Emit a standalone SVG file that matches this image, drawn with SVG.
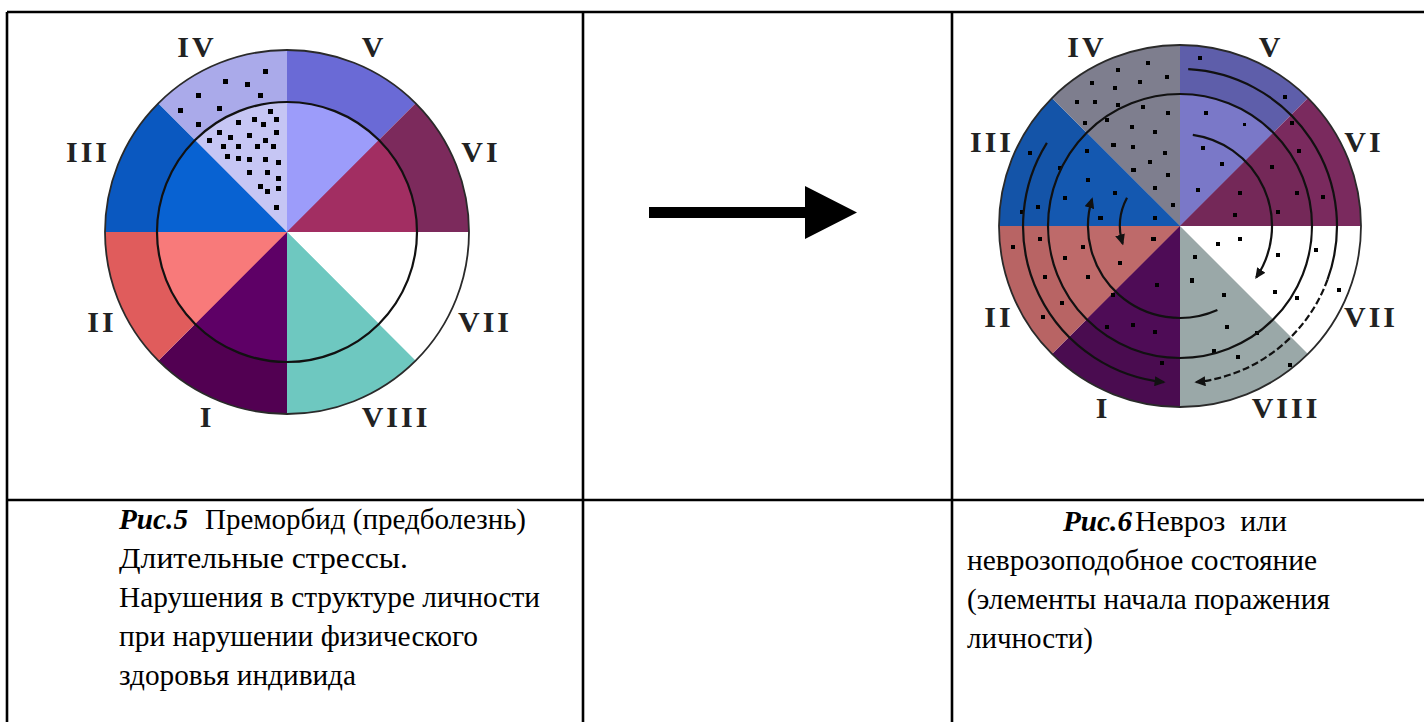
<svg xmlns="http://www.w3.org/2000/svg" width="1424" height="722" viewBox="0 0 1424 722">
<style>
.tb{stroke:#000;stroke-width:2.6;fill:none}
.lbl{font-family:"Liberation Serif","Times New Roman",serif;font-weight:bold;font-size:30px;letter-spacing:3px;fill:#222;text-anchor:middle}
.cap{font-family:"Liberation Serif","Times New Roman",serif;font-size:30px;fill:#000}
.bi{font-weight:bold;font-style:italic}
.ring{fill:none;stroke:#111;stroke-width:2.2}
.edge{fill:none;stroke:#2a2a2a;stroke-width:1.8}
.arc{fill:none;stroke:#111;stroke-width:2.2}
.dash{stroke-dasharray:7 3}
.dots{fill:#000}
</style>
<defs>
<marker id="ah" markerUnits="userSpaceOnUse" markerWidth="11" markerHeight="10" refX="9" refY="5" orient="auto">
<path d="M0,0 L11,5 L0,10 Z" fill="#111"/>
</marker>
</defs>
<rect width="1424" height="722" fill="#fff"/>

<g id="table">
<path class="tb" d="M7 12 H1424 M7 12 V722 M583 12 V722 M952 12 V722 M7 500 H1424"/>
</g>

<g id="fig5">
<path d="M287 232 L469 232 A182 182 0 0 1 415.69 360.69 Z" fill="#ffffff"/>
<path d="M287 232 L415.69 360.69 A182 182 0 0 1 287 414 Z" fill="#6ec8c0"/>
<path d="M287 232 L287 414 A182 182 0 0 1 158.31 360.69 Z" fill="#520052"/>
<path d="M287 232 L158.31 360.69 A182 182 0 0 1 105 232 Z" fill="#e05c5c"/>
<path d="M287 232 L105 232 A182 182 0 0 1 158.31 103.31 Z" fill="#0a58c0"/>
<path d="M287 232 L158.31 103.31 A182 182 0 0 1 287 50 Z" fill="#aaaaea"/>
<path d="M287 232 L287 50 A182 182 0 0 1 415.69 103.31 Z" fill="#6a6ad6"/>
<path d="M287 232 L415.69 103.31 A182 182 0 0 1 469 232 Z" fill="#7c2a5c"/>
<path d="M287 232 L378.92 323.92 A130 130 0 0 1 287 362 Z" fill="#6ec8c0"/>
<path d="M287 232 L287 362 A130 130 0 0 1 195.08 323.92 Z" fill="#5e0066"/>
<path d="M287 232 L195.08 323.92 A130 130 0 0 1 157 232 Z" fill="#f87a7a"/>
<path d="M287 232 L157 232 A130 130 0 0 1 195.08 140.08 Z" fill="#0862d2"/>
<path d="M287 232 L195.08 140.08 A130 130 0 0 1 287 102 Z" fill="#c6c6f4"/>
<path d="M287 232 L287 102 A130 130 0 0 1 378.92 140.08 Z" fill="#9c9cfa"/>
<path d="M287 232 L378.92 140.08 A130 130 0 0 1 417 232 Z" fill="#a22e62"/>
<circle class="ring" cx="287" cy="232" r="130"/>
<circle class="edge" cx="287" cy="232" r="182"/>
<path class="dots" d="M263 69h5v5h-5z M223 79h5v5h-5z M245 82h5v5h-5z M196 93h5v5h-5z M258 93h5v5h-5z M178 108h5v5h-5z M217 106h5v5h-5z M196 122h5v5h-5z M268 109h5v5h-5z M274 117h5v5h-5z M236 120h5v5h-5z M252 117h5v5h-5z M261 122h5v5h-5z M217 130h5v5h-5z M228 135h5v5h-5z M247 133h5v5h-5z M274 130h5v5h-5z M207 138h5v5h-5z M221 144h5v5h-5z M236 144h5v5h-5z M255 144h5v5h-5z M263 138h5v5h-5z M271 144h5v5h-5z M225 154h5v5h-5z M236 156h5v5h-5z M247 157h5v5h-5z M263 157h5v5h-5z M276 160h5v5h-5z M247 170h5v5h-5z M265 170h5v5h-5z M276 176h5v5h-5z M258 184h5v5h-5z M265 189h5v5h-5z M276 186h5v5h-5z M274 205h5v5h-5z"/>
<text class="lbl" x="197" y="57">IV</text>
<text class="lbl" x="374" y="57">V</text>
<text class="lbl" x="88" y="162">III</text>
<text class="lbl" x="481" y="162">VI</text>
<text class="lbl" x="102" y="332">II</text>
<text class="lbl" x="485" y="332">VII</text>
<text class="lbl" x="207" y="427">I</text>
<text class="lbl" x="396" y="427">VIII</text>
</g>

<g id="fig6">
<path d="M1180 226 L1361 226 A181 181 0 0 1 1307.99 353.99 Z" fill="#ffffff"/>
<path d="M1180 226 L1307.99 353.99 A181 181 0 0 1 1180 407 Z" fill="#9aa8a8"/>
<path d="M1180 226 L1180 407 A181 181 0 0 1 1052.01 353.99 Z" fill="#4a0c50"/>
<path d="M1180 226 L1052.01 353.99 A181 181 0 0 1 999 226 Z" fill="#b86464"/>
<path d="M1180 226 L999 226 A181 181 0 0 1 1052.01 98.01 Z" fill="#1454a8"/>
<path d="M1180 226 L1052.01 98.01 A181 181 0 0 1 1180 45 Z" fill="#7e7e8e"/>
<path d="M1180 226 L1180 45 A181 181 0 0 1 1307.99 98.01 Z" fill="#5e5eaa"/>
<path d="M1180 226 L1307.99 98.01 A181 181 0 0 1 1361 226 Z" fill="#7a2a5e"/>
<path d="M1180 226 L1180 94 A132 132 0 0 1 1273.34 132.66 Z" fill="#7a78c8"/>
<path d="M1180 226 L1273.34 132.66 A132 132 0 0 1 1312 226 Z" fill="#742858"/>
<path d="M1180 226 L1086.66 319.34 A132 132 0 0 1 1048 226 Z" fill="#be6a6a"/>
<path d="M1180 226 L1048 226 A132 132 0 0 1 1086.66 132.66 Z" fill="#1458b0"/>
<path d="M1180 226 L1180 358 A132 132 0 0 1 1086.66 319.34 Z" fill="#4e0c56"/>
<circle class="edge" cx="1180" cy="226" r="181"/>
<path class="dots" d="M1146 61h4v4h-4z M1116 68h4v4h-4z M1165 75h4v4h-4z M1090 81h4v4h-4z M1138 80h4v4h-4z M1113 86h4v4h-4z M1075 100h4v4h-4z M1093 100h4v4h-4z M1116 103h4v4h-4z M1141 105h4v4h-4z M1166 111h4v4h-4z M1105 118h4v4h-4z M1083 121h4v4h-4z M1130 125h4v4h-4z M1153 130h4v4h-4z M1111 143h5v4h-5z M1131 145h4v4h-4z M1163 151h4v4h-4z M1148 160h4v4h-4z M1131 168h5v4h-5z M1166 173h4v4h-4z M1153 186h4v4h-4z M1171 203h4v4h-4z M1085 149h4v4h-4z M1028 151h4v4h-4z M1058 166h4v4h-4z M1086 178h4v4h-4z M1113 191h4v4h-4z M1063 196h4v4h-4z M1036 205h4v4h-4z M1098 216h5v4h-5z M1153 216h4v4h-4z M1020 210h4v4h-4z M1011 245h4v4h-4z M1038 237h4v4h-4z M1081 245h4v4h-4z M1063 256h4v4h-4z M1151 237h5v4h-5z M1118 261h4v4h-4z M1043 275h4v4h-4z M1086 275h4v4h-4z M1111 293h4v4h-4z M1060 301h4v4h-4z M1041 315h4v4h-4z M1155 283h4v4h-4z M1131 323h4v4h-4z M1105 325h4v4h-4z M1153 330h4v4h-4z M1160 361h4v4h-4z M1198 56h4v4h-4z M1283 95h4v4h-4z M1204 111h4v4h-4z M1243 123h3v3h-3z M1201 146h4v4h-4z M1220 162h4v4h-4z M1196 188h4v4h-4z M1290 121h4v4h-4z M1297 149h4v4h-4z M1270 165h4v4h-4z M1238 191h4v4h-4z M1295 191h4v4h-4z M1321 195h4v4h-4z M1233 213h4v4h-4z M1276 210h4v4h-4z M1216 242h4v4h-4z M1238 237h4v4h-4z M1276 253h4v4h-4z M1314 248h4v4h-4z M1273 290h4v4h-4z M1295 296h4v4h-4z M1337 288h4v4h-4z M1193 255h4v4h-4z M1190 278h4v5h-4z M1222 293h4v4h-4z M1225 325h4v4h-4z M1255 331h4v4h-4z M1212 349h4v4h-4z M1236 355h4v4h-4z M1288 363h4v4h-4z"/>
<text class="lbl" x="1087" y="57">IV</text>
<text class="lbl" x="1271" y="57">V</text>
<text class="lbl" x="992" y="152">III</text>
<text class="lbl" x="1364" y="152">VI</text>
<text class="lbl" x="999" y="327">II</text>
<text class="lbl" x="1371" y="327">VII</text>
<text class="lbl" x="1103" y="418">I</text>
<text class="lbl" x="1286" y="418">VIII</text>
</g>

<g id="connectors">
<path d="M649 207 H805 V186 L857 212.5 L805 239 V218 H649 Z" fill="#000"/>
<circle class="ring" cx="1180" cy="226" r="132"/>
<path class="arc" d="M1192.8 134.9 A92 92 0 0 1 1256.3 277.4" marker-end="url(#ah)"/>
<path class="arc" d="M1188.2 69.2 A157 157 0 0 1 1327.5 279.7"/>
<path class="arc dash" d="M1327.5 279.7 A157 157 0 0 1 1196.4 382.1" marker-end="url(#ah)"/>
<path class="arc" d="M1046.9 142.8 A157 157 0 0 0 1163.6 382.1" marker-end="url(#ah)"/>
<path class="arc" d="M1217.4 310 A92 92 0 0 1 1092 199.1" marker-end="url(#ah)"/>
<path class="arc" d="M1127 197.8 A60 60 0 0 0 1122.6 243.5" marker-end="url(#ah)"/>
</g>

<g id="caption5">
<text class="cap bi" x="119" y="529" textLength="69" lengthAdjust="spacingAndGlyphs">Рис.5</text>
<text class="cap" x="205" y="529" textLength="321" lengthAdjust="spacingAndGlyphs">Преморбид (предболезнь)</text>
<text class="cap" x="119" y="568" textLength="289" lengthAdjust="spacingAndGlyphs">Длительные стрессы.</text>
<text class="cap" x="119" y="607" textLength="421" lengthAdjust="spacingAndGlyphs">Нарушения в структуре личности</text>
<text class="cap" x="119" y="646" textLength="359" lengthAdjust="spacingAndGlyphs">при нарушении физического</text>
<text class="cap" x="119" y="685" textLength="237" lengthAdjust="spacingAndGlyphs">здоровья индивида</text>
</g>

<g id="caption6">
<text class="cap bi" x="1063" y="531" textLength="69" lengthAdjust="spacingAndGlyphs">Рис.6</text>
<text class="cap" x="1135" y="531" textLength="152" lengthAdjust="spacingAndGlyphs" xml:space="preserve">Невроз  или</text>
<text class="cap" x="967" y="570" textLength="350" lengthAdjust="spacingAndGlyphs">неврозоподобное состояние</text>
<text class="cap" x="967" y="609" textLength="363" lengthAdjust="spacingAndGlyphs">(элементы начала поражения</text>
<text class="cap" x="967" y="648" textLength="126" lengthAdjust="spacingAndGlyphs">личности)</text>
</g>
</svg>
